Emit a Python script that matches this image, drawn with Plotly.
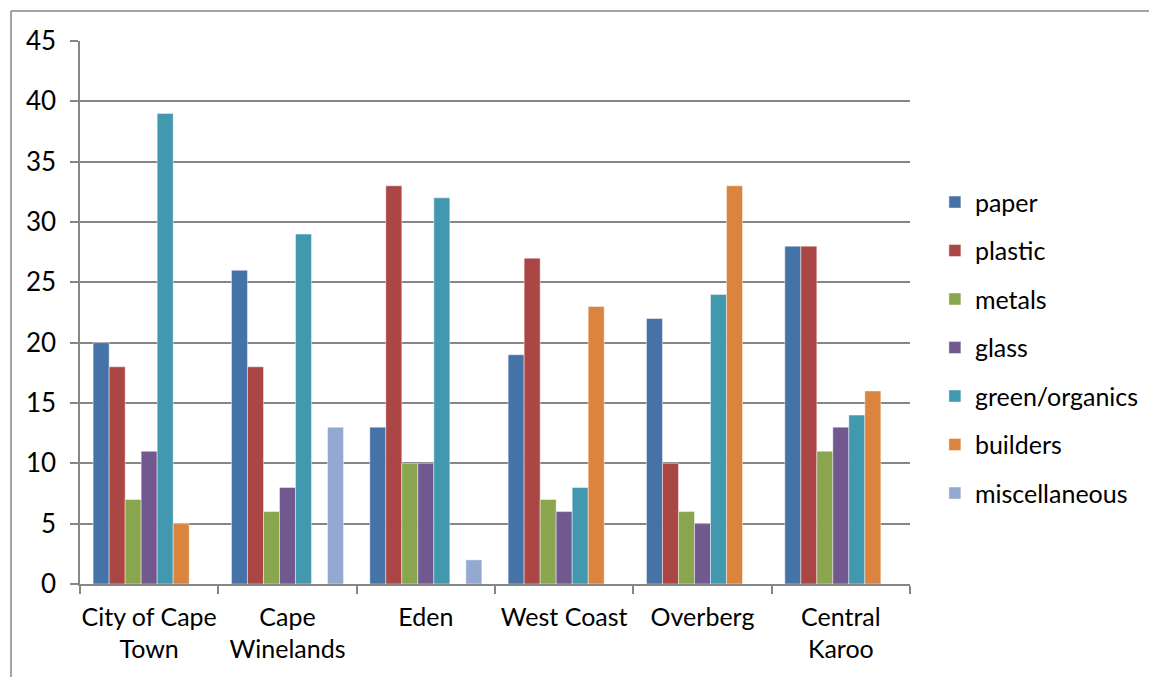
import plotly.graph_objects as go

# Waste composition by district (percent)
districts = ["City of Cape<br>Town", "Cape<br>Winelands", "Eden", "West Coast",
             "Overberg", "Central<br>Karoo"]

paper = [20, 26, 13, 19, 22, 28]
plastic = [18, 18, 33, 27, 10, 28]
metals = [7, 6, 10, 7, 6, 11]
glass = [11, 8, 10, 6, 5, 13]
green_organics = [39, 29, 32, 8, 24, 14]
builders = [5, 0, 0, 23, 33, 16]
miscellaneous = [0, 13, 2, 0, 0, 0]

series = [
    ("paper", paper, "#4572A7"),
    ("plastic", plastic, "#AA4643"),
    ("metals", metals, "#89A54E"),
    ("glass", glass, "#71588F"),
    ("green/organics", green_organics, "#4198AF"),
    ("builders", builders, "#DB843D"),
    ("miscellaneous", miscellaneous, "#93A9CF"),
]

y_ticks = list(range(0, 50, 5))

FONT = "Lato"
GRID = "#868686"

fig = go.Figure()
for name, vals, color in series:
    fig.add_trace(go.Bar(
        name=name, x=districts, y=vals, legendgroup=name,
        marker=dict(color=color, line=dict(color="rgba(255,255,255,0.45)", width=1)),
    ))

fig.update_layout(
    width=1149, height=677,
    margin=dict(l=80, r=239, t=41, b=93, autoexpand=False),
    paper_bgcolor="white", plot_bgcolor="white",
    barmode="group", bargap=0.19, bargroupgap=0,
    font=dict(family=FONT, size=26, color="#000000"),
    showlegend=True,
    legend=dict(
        x=1.03, y=0.435, xanchor="left", yanchor="middle",
        font=dict(family=FONT, size=25, color="#000000"),
        tracegroupgap=13, itemwidth=30,
    ),
    xaxis=dict(
        showline=True, linecolor=GRID, linewidth=1.5,
        ticks="outside", ticklen=8, tickcolor=GRID, tickwidth=1.5,
        tickson="boundaries", showgrid=False, tickangle=0, automargin=False,
        ticklabelstandoff=10,
        tickfont=dict(family=FONT, size=25),
    ),
    yaxis=dict(
        range=[0, 45], tickvals=y_ticks,
        showline=True, linecolor=GRID, linewidth=1.5,
        ticks="outside", ticklen=8, tickcolor=GRID, tickwidth=1.5,
        showgrid=True, gridcolor=GRID, gridwidth=1.5,
        zeroline=False, ticklabelstandoff=9, automargin=False,
        tickfont=dict(family=FONT, size=26),
    ),
    shapes=[
        dict(type="line", xref="paper", yref="paper",
             x0=-0.0831, x1=1.3, y0=1.0552, y1=1.0552,
             line=dict(color=GRID, width=1.5)),
        dict(type="line", xref="paper", yref="paper",
             x0=-0.0831, x1=-0.0831, y0=1.0552, y1=-0.2,
             line=dict(color=GRID, width=1.5)),
    ],
)

fig.write_html("out.html")
